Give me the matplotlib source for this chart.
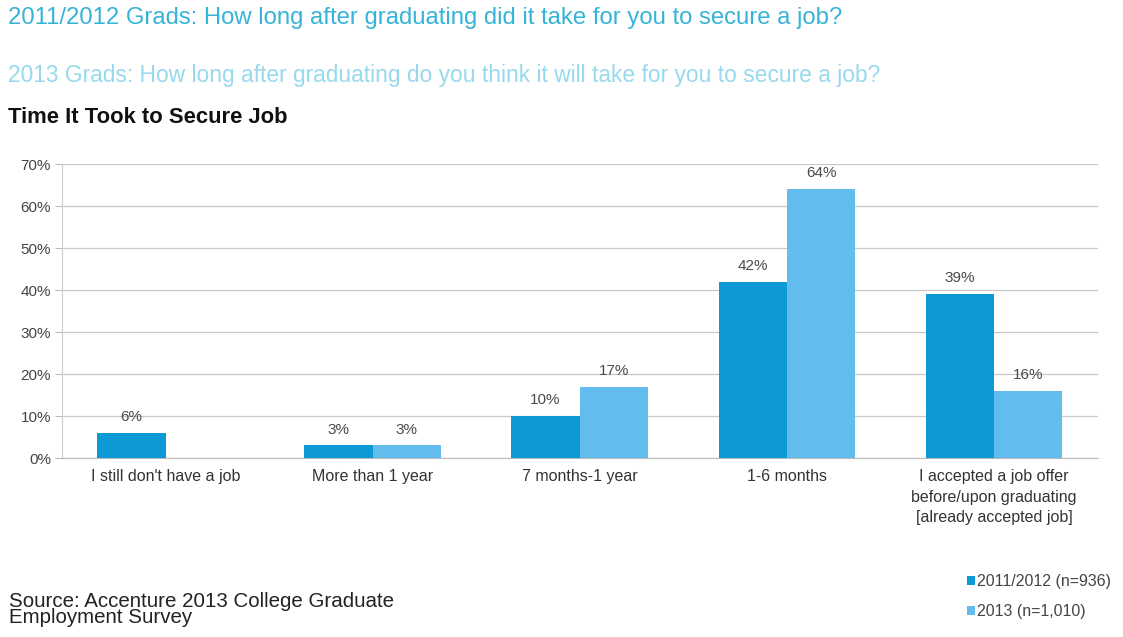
import matplotlib.pyplot as plt
import numpy as np

plt.rcParams['font.family'] = ['Liberation Sans', 'DejaVu Sans']

# Data
categories = [
    "I still don't have a job",
    "More than 1 year",
    "7 months-1 year",
    "1-6 months",
    "I accepted a job offer\nbefore/upon graduating\n[already accepted job]",
]
grads_2011_2012 = [6, 3, 10, 42, 39]
grads_2013 = [None, 3, 17, 64, 16]
series_labels = ["2011/2012 (n=936)", "2013 (n=1,010)"]
y_ticks = [0, 10, 20, 30, 40, 50, 60, 70]

dark_blue = '#0c99d6'
light_blue = '#62bced'
label_gray = '#4a4a4a'

fig = plt.figure(figsize=(11.23, 6.37), dpi=100)
ax = fig.add_axes([0.0552, 0.281, 0.9221, 0.4615])

x = np.arange(len(categories))
width = 0.33

vals_a = np.array(grads_2011_2012, dtype=float)
vals_b = np.array([np.nan if v is None else v for v in grads_2013], dtype=float)

ax.bar(x - width / 2, vals_a, width, color=dark_blue, label=series_labels[0], zorder=3)
ax.bar(x + width / 2, vals_b, width, color=light_blue, label=series_labels[1], zorder=3)

for i in range(len(categories)):
    ax.text(x[i] - width / 2, vals_a[i] + 2.1, f'{grads_2011_2012[i]}%', ha='center', va='bottom',
            fontsize=11, color=label_gray, zorder=4)
    if grads_2013[i] is not None:
        ax.text(x[i] + width / 2, vals_b[i] + 2.1, f'{grads_2013[i]}%', ha='center', va='bottom',
                fontsize=11, color=label_gray, zorder=4)

ax.set_xlim(-0.5, len(categories) - 0.5)
ax.set_ylim(0, 70)
ax.set_yticks(y_ticks)
ax.set_yticklabels([f'{t}%' for t in y_ticks], fontsize=11, color='#444444')
ax.set_xticks(x)
ax.set_xticklabels(categories, fontsize=11.5, color='#333333', linespacing=1.45)
ax.tick_params(axis='x', length=0, pad=8)
ax.tick_params(axis='y', length=5, color='#bbbbbb', pad=3)
ax.grid(axis='y', color='#c8c8c8', linewidth=0.9, zorder=0)
for side in ['top', 'right']:
    ax.spines[side].set_visible(False)
ax.spines['left'].set_color('#cccccc')
ax.spines['bottom'].set_color('#bbbbbb')

# Headings above the chart
fig.text(0.007, 0.972, '2011/2012 Grads: How long after graduating did it take for you to secure a job?',
         fontsize=17.2, color='#35b3d8', va='center', ha='left')
fig.text(0.007, 0.882, '2013 Grads: How long after graduating do you think it will take for you to secure a job?',
         fontsize=16.4, color='#97d9ee', va='center', ha='left')
fig.text(0.007, 0.816, 'Time It Took to Secure Job', fontsize=15.8, fontweight='bold',
         color='#111111', va='center', ha='left')

fig.text(0.008, 0.043, 'Source: Accenture 2013 College Graduate\nEmployment Survey',
         fontsize=14.8, color='#222222', va='center', ha='left', linespacing=0.8)

leg = fig.legend(loc='center left', bbox_to_anchor=(0.848, 0.063), frameon=False,
                 fontsize=11.5, handlelength=0.5, handleheight=0.5, handletextpad=0.15,
                 labelspacing=0.95)
for t in leg.get_texts():
    t.set_color('#444444')

plt.savefig('out.png', dpi=100)
